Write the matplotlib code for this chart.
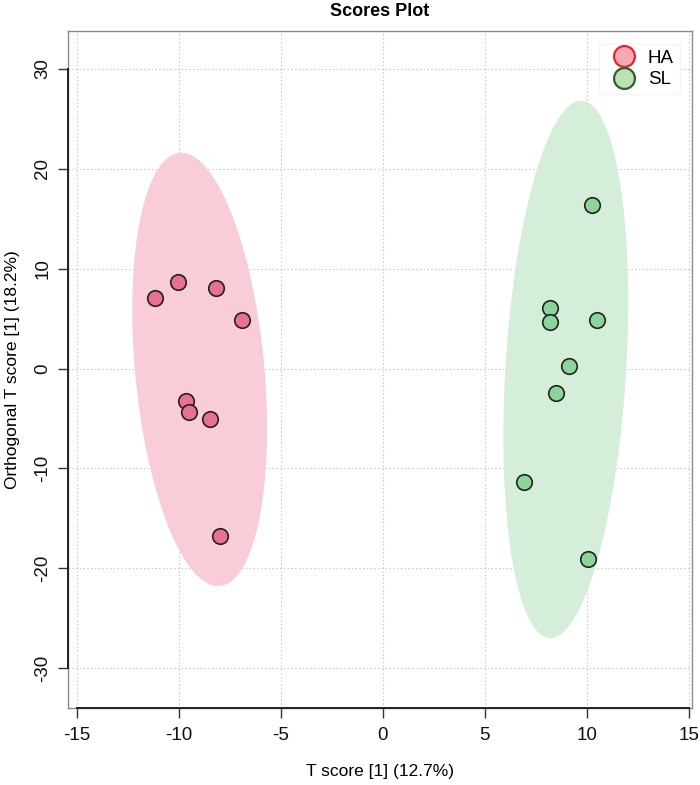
import numpy as np
import matplotlib
matplotlib.use("Agg")
import matplotlib.pyplot as plt
from matplotlib.patches import Ellipse
from matplotlib.lines import Line2D

plt.rcParams['font.family'] = ['Liberation Sans', 'DejaVu Sans']

# scores
groups = ["HA", "SL"]
ha_t = [-11.15, -10.03, -8.16, -6.90, -9.64, -9.48, -8.47, -7.97]
ha_o = [7.07, 8.62, 8.08, 4.87, -3.21, -4.35, -5.05, -16.8]
sl_t = [10.27, 8.20, 8.20, 10.49, 9.15, 8.48, 6.91, 10.08]
sl_o = [16.33, 6.04, 4.67, 4.81, 0.26, -2.41, -11.39, -19.04]

x_ticks = [-15, -10, -5, 0, 5, 10, 15]
y_ticks = [-30, -20, -10, 0, 10, 20, 30]

point_colors = ["#E8718F", "#8DD49A"]
ellipse_colors = ["#F8CDD8", "#D5EEDA"]
legend_fill = ["#F6A9B2", "#BFE0B5"]
legend_edge = ["#E3262E", "#2F5F2A"]

# sqrt(qchisq(0.95, 2)) for a 95% ellipse
T95 = 2.4477


def conf_ellipse(x, y, color):
    x = np.asarray(x)
    y = np.asarray(y)
    cov = np.cov(x, y)
    vals, vecs = np.linalg.eigh(cov)
    order = vals.argsort()[::-1]
    vals, vecs = vals[order], vecs[:, order]
    angle = np.degrees(np.arctan2(vecs[1, 0], vecs[0, 0]))
    w, h = 2 * T95 * np.sqrt(vals)
    return Ellipse((x.mean(), y.mean()), w, h, angle=angle,
                   facecolor=color, edgecolor="none", zorder=1)


fig = plt.figure(figsize=(7.0, 7.85), dpi=100)
ax = fig.add_axes([68 / 700, 1 - 708 / 785, 624 / 700, 677 / 785])

xlim = (-15.43, 15.16)
ylim = (-34.0, 33.8)
ax.set_xlim(xlim)
ax.set_ylim(ylim)

for xs, ys, ec in zip([ha_t, sl_t], [ha_o, sl_o], ellipse_colors):
    ax.add_patch(conf_ellipse(xs, ys, ec))

ax.scatter(ha_t, ha_o, s=125, c=point_colors[0], edgecolors="#222222",
           linewidths=1.2, zorder=3)
ax.scatter(sl_t, sl_o, s=125, c=point_colors[1], edgecolors="#222222",
           linewidths=1.2, zorder=3)

# dotted grid
for v in x_ticks:
    ax.axvline(v, color="#C4C4C4", lw=0.8, ls=(0, (1.2, 2.2)), zorder=0)
for v in y_ticks:
    ax.axhline(v, color="#C4C4C4", lw=0.8, ls=(0, (1.2, 2.2)), zorder=0)

ax.set_xticks(x_ticks)
ax.set_yticks(y_ticks)
ax.set_xticklabels([str(v) for v in x_ticks])
ax.set_yticklabels([str(v) for v in y_ticks], rotation=90, va="center")
ax.tick_params(axis="both", direction="out", length=7, width=1,
               color="#333333", labelsize=13.5, labelcolor="#111111")
ax.tick_params(axis="x", pad=7)
ax.tick_params(axis="y", pad=5)

for sp in ax.spines.values():
    sp.set_color("#8A8A8A")
    sp.set_linewidth(1.0)

# R style axis lines from first to last tick
ax.add_line(Line2D([x_ticks[0], x_ticks[-1]], [ylim[0], ylim[0]],
                   color="#222222", lw=1.4, clip_on=False, zorder=5))
ax.add_line(Line2D([xlim[0], xlim[0]], [y_ticks[0], y_ticks[-1]],
                   color="#222222", lw=1.4, clip_on=False, zorder=5))

ax.set_xlabel("T score [1] (12.7%)", fontsize=12.5, labelpad=14)
ax.set_ylabel("Orthogonal T score [1] (18.2%)", fontsize=12.5, labelpad=10)
fig.text(380 / 700, 1 - 11 / 785, "Scores Plot", fontsize=13,
         fontweight="bold", ha="center", va="center")

handles = [Line2D([], [], marker="o", ls="none", markersize=15,
                  markerfacecolor=f, markeredgecolor=e, markeredgewidth=1.6)
           for f, e in zip(legend_fill, legend_edge)]
leg = ax.legend(handles, groups, loc="upper right", fontsize=13.5,
                frameon=True, handletextpad=0.3, borderpad=0.3,
                labelspacing=0.25, bbox_to_anchor=(0.995, 0.995))
leg.get_frame().set_edgecolor("#F4F4F4")
leg.get_frame().set_facecolor("white")
leg.get_frame().set_alpha(1.0)
leg.get_frame().set_boxstyle("square", pad=0)

fig.savefig("out.png", dpi=100)
